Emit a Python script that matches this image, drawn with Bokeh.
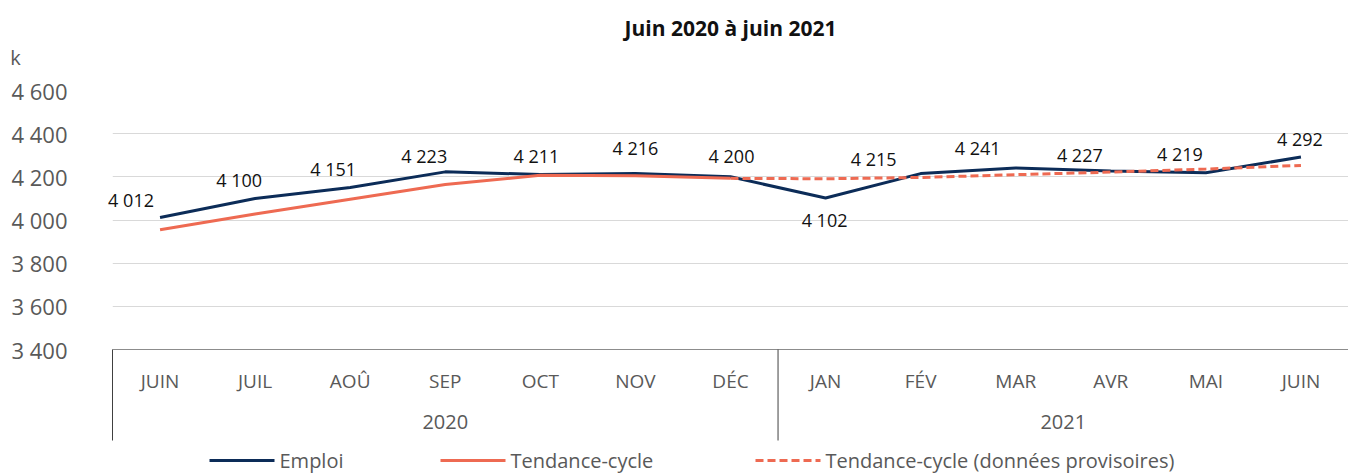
from bokeh.plotting import figure
from bokeh.models import FactorRange, Range1d, FixedTicker
from bokeh.core.properties import value
from bokeh.embed import file_html
from bokeh.resources import INLINE

# ---- data ----
YEARS = ["2020", "2020", "2020", "2020", "2020", "2020", "2020",
         "2021", "2021", "2021", "2021", "2021", "2021"]
MONTHS = ["JUIN", "JUIL", "AOÛ", "SEP", "OCT", "NOV", "DÉC",
          "JAN", "FÉV", "MAR", "AVR", "MAI", "JUIN"]
EMPLOI = [4012, 4100, 4151, 4223, 4211, 4216, 4200, 4102, 4215, 4241, 4227, 4219, 4292]
TENDANCE = [3955, 4028, 4096, 4164, 4207, 4205, 4193]          # JUIN 2020 .. DÉC 2020
TENDANCE_PROV = [4193, 4191, 4197, 4210, 4222, 4236, 4253]     # DÉC 2020 .. JUIN 2021
Y_TICKS = [3400, 3600, 3800, 4000, 4200, 4400, 4600]
Y_TICK_LABELS = ["3 400", "3 600", "3 800", "4 000", "4 200", "4 400", "4 600"]
TITLE = "Juin 2020 à juin 2021"
UNIT = "k"
SERIES = ["Emploi", "Tendance-cycle", "Tendance-cycle (données provisoires)"]

# label offsets (screen px) for the data labels
LBL_DX = [-29, -16, -17, -21, -4, 0, 1, -1, -47, -38, -31, -26, -1]
LBL_DY = [-17, -18, -18, -16, -18, -25, -21, 22, -15, -20, -16, -19, -18]

FONT = "Open Sans"
NAVY = "#0c2c58"
ORANGE = "#ee6a52"
GREY_TXT = "#595959"

factors = list(zip(YEARS, MONTHS))
n_solid = len(TENDANCE)
trend_x = factors[:n_solid]
prov_x = factors[n_solid - 1:]

W, H = 1348, 475
BL, BR, BT, BB = 112, 0, 90, 126
FRAME_W = W - BL - BR
FRAME_H = H - BT - BB
X_STEP = FRAME_W / len(factors)              # px per category
Y_PER_PX = (Y_TICKS[-1] - Y_TICKS[0]) / FRAME_H

p = figure(width=W, height=H,
           x_range=FactorRange(*factors, group_padding=0, subgroup_padding=0,
                               factor_padding=0, range_padding=0),
           y_range=Range1d(Y_TICKS[0], Y_TICKS[-1]),
           output_backend="svg", toolbar_location=None, title=None,
           min_border_left=BL, min_border_right=BR,
           min_border_top=BT, min_border_bottom=BB)
p.outline_line_color = None
p.background_fill_color = "white"
p.border_fill_color = "white"

# grid
p.xgrid.grid_line_color = None
p.ygrid.grid_line_color = "#d9d9d9"
p.ygrid.grid_line_width = 1
p.ygrid.ticker = FixedTicker(ticks=Y_TICKS)

# y axis
p.yaxis.ticker = FixedTicker(ticks=Y_TICKS)
p.yaxis.major_label_overrides = {t: l for t, l in zip(Y_TICKS, Y_TICK_LABELS)}
p.yaxis.axis_line_color = None
p.yaxis.major_tick_line_color = None
p.yaxis.minor_tick_line_color = None
p.yaxis.major_tick_out = 0
p.yaxis.minor_tick_out = 0
p.yaxis.major_label_standoff = 45
p.yaxis.major_label_text_font = FONT
p.yaxis.major_label_text_font_size = "22px"
p.yaxis.major_label_text_color = GREY_TXT

# x axis (nested categories)
xa = p.xaxis[0]
xa.axis_line_color = "#8c8c8c"
xa.axis_line_width = 1
xa.major_tick_line_color = None
xa.major_tick_out = 0
xa.major_tick_in = 0
xa.minor_tick_out = 0
xa.major_label_standoff = 18
xa.major_label_text_font = FONT
xa.major_label_text_font_size = "19px"
xa.major_label_text_color = GREY_TXT
xa.major_label_overrides = {m: m + "\n" for m in set(MONTHS)}
xa.group_text_font = FONT
xa.group_text_font_size = "20px"
xa.group_text_color = GREY_TXT
xa.group_text_font_style = "normal"
xa.separator_line_color = None

# vertical separators of the axis box
y_box_bottom = Y_TICKS[0] - 91 * Y_PER_PX
box_x = [(YEARS[0], MONTHS[0], -0.5), (YEARS[7], MONTHS[7], -0.5), (YEARS[-1], MONTHS[-1], 0.5)]
p.segment(x0=box_x, x1=box_x, y0=[Y_TICKS[0]] * 3, y1=[y_box_bottom] * 3,
          line_color="#404040", line_width=1, level="annotation")

# series
r_emp = p.line(x=factors, y=EMPLOI, line_color=NAVY, line_width=3)
r_tc = p.line(x=trend_x, y=TENDANCE, line_color=ORANGE, line_width=3)
r_prov = p.line(x=prov_x, y=TENDANCE_PROV, line_color=ORANGE, line_width=3,
                line_dash="8 4")

# data labels
labels = [f"{v:,}".replace(",", " ") for v in EMPLOI]
p.text(x=factors, y=EMPLOI, text=labels, x_offset=LBL_DX, y_offset=LBL_DY,
       text_align="center", text_baseline="middle",
       text_font=value(FONT), text_font_size="18px", text_color="#111111",
       level="annotation")

# title (centred over the frame) and unit, placed above the frame
p.text(x=[len(factors) / 2], y=[Y_TICKS[-1]], text=[TITLE], y_offset=[-63],
       text_align="center", text_baseline="middle",
       text_font=value(FONT), text_font_size="21px", text_font_style="bold",
       text_color="#111111", level="annotation")
p.text(x=[0], y=[Y_TICKS[-1]], text=[UNIT], x_offset=[-97], y_offset=[-33],
       text_align="center", text_baseline="middle",
       text_font=value(FONT), text_font_size="20px",
       text_color=GREY_TXT, level="annotation")

# legend (drawn below the axis box)
LEG_PX = [97, 328, 643]          # start of each legend sample, px from frame left
LEG_LEN = 65
LEG_GAP = 5
leg_y = Y_TICKS[0] - 111 * Y_PER_PX
leg_x0 = [px / X_STEP for px in LEG_PX]
leg_x1 = [(px + LEG_LEN) / X_STEP for px in LEG_PX]
p.segment(x0=leg_x0[:2], x1=leg_x1[:2], y0=[leg_y] * 2, y1=[leg_y] * 2,
          line_color=[NAVY, ORANGE], line_width=3, level="annotation")
p.segment(x0=leg_x0[2:], x1=leg_x1[2:], y0=[leg_y], y1=[leg_y],
          line_color=ORANGE, line_width=3, line_dash="8 4", level="annotation")
p.text(x=leg_x1, y=[leg_y] * 3, text=SERIES, x_offset=[LEG_GAP] * 3,
       text_align="left", text_baseline="middle",
       text_font=value(FONT), text_font_size="20px",
       text_color=GREY_TXT, level="annotation")

open("out.html", "w").write(file_html(p, INLINE))
